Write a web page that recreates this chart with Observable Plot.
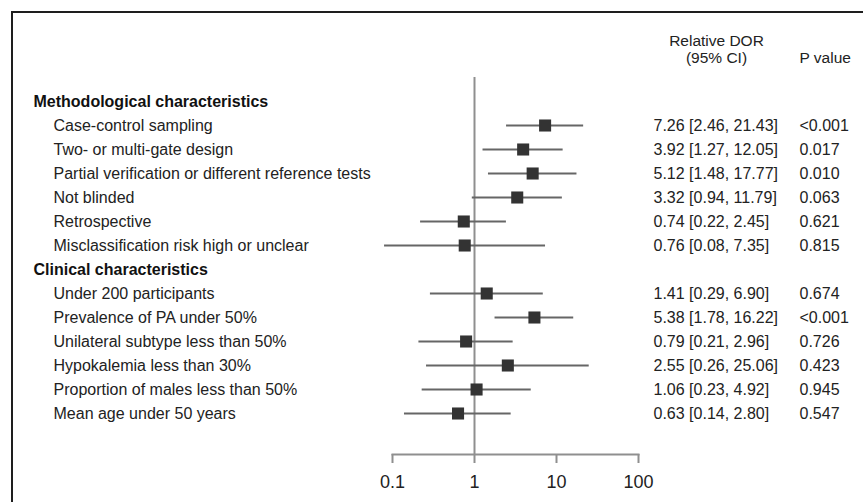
<!DOCTYPE html>
<html>
<head>
<meta charset="utf-8">
<script src="https://cdn.jsdelivr.net/npm/d3@7"></script>
<script src="https://cdn.jsdelivr.net/npm/@observablehq/plot@0.6"></script>
<style>
  html, body { margin: 0; padding: 0; background: #fff; overflow: hidden; }
  #wrap { position: relative; width: 863px; height: 502px; }
  #border { position: absolute; left: 11px; top: 11px; width: 1000px; height: 1000px;
            border-left: 2px solid #1e1e1e; border-top: 2px solid #1e1e1e; pointer-events: none; }
  svg { font-family: "Liberation Sans", Arial, sans-serif; }
</style>
</head>
<body>
<div id="wrap"><div id="chart"></div><div id="border"></div></div>
<script>
const groups = ["Methodological characteristics", "Clinical characteristics"];
const labels = [
  "Case-control sampling",
  "Two- or multi-gate design",
  "Partial verification or different reference tests",
  "Not blinded",
  "Retrospective",
  "Misclassification risk high or unclear",
  "Under 200 participants",
  "Prevalence of PA under 50%",
  "Unilateral subtype less than 50%",
  "Hypokalemia less than 30%",
  "Proportion of males less than 50%",
  "Mean age under 50 years"
];
const groupOf = [0, 0, 0, 0, 0, 0, 1, 1, 1, 1, 1, 1];
const estimates = [7.26, 3.92, 5.12, 3.32, 0.74, 0.76, 1.41, 5.38, 0.79, 2.55, 1.06, 0.63];
const lower     = [2.46, 1.27, 1.48, 0.94, 0.22, 0.08, 0.29, 1.78, 0.21, 0.26, 0.23, 0.14];
const upper     = [21.43, 12.05, 17.77, 11.79, 2.45, 7.35, 6.90, 16.22, 2.96, 25.06, 4.92, 2.80];
const pValues   = ["<0.001", "0.017", "0.010", "0.063", "0.621", "0.815",
                   "0.674", "<0.001", "0.726", "0.423", "0.945", "0.547"];
const xTicks = [0.1, 1, 10, 100];
const colHeaders = ["Relative DOR", "(95% CI)", "P value"];

// build row order: group header then its items
const rowOrder = [];
groups.forEach((g, gi) => {
  rowOrder.push(g);
  labels.forEach((l, i) => { if (groupOf[i] === gi) rowOrder.push(l); });
});
const items = labels.map((l, i) => ({
  label: l, est: estimates[i], lo: lower[i], hi: upper[i], p: pValues[i],
  ci: `${estimates[i].toFixed(2)} [${lower[i].toFixed(2)}, ${upper[i].toFixed(2)}]`
}));

const W = 863, H = 502;
const mL = 392, mR = 225, mT = 77, mB = 48;
const frameRight = W - mR;

const chart = Plot.plot({
  width: W, height: H,
  marginLeft: mL, marginRight: mR, marginTop: mT, marginBottom: mB,
  style: { fontFamily: "'Liberation Sans', Arial, sans-serif", background: "transparent" },
  x: { type: "log", domain: [0.1, 100] },
  y: { type: "point", domain: rowOrder, range: [101, 413], padding: 0, axis: null },
  marks: [
    Plot.ruleX([1], { stroke: "#8f8f8f", strokeWidth: 2 }),
    Plot.frame({ anchor: "bottom", stroke: "#8f8f8f", strokeWidth: 2 }),
    Plot.axisX({ ticks: xTicks, tickFormat: d => String(d), tickSize: 9, tickPadding: 12,
                 fontSize: 18, stroke: "#8f8f8f", strokeWidth: 2, color: "#222", label: null }),
    Plot.ruleY(items, { y: "label", x1: "lo", x2: "hi", stroke: "#666", strokeWidth: 2 }),
    Plot.dot(items, { x: "est", y: "label", symbol: "square", r: 6.8, fill: "#333", stroke: null }),
    Plot.text(groups, { y: d => d, text: d => d, frameAnchor: "left", dx: 33 - mL,
                        textAnchor: "start", lineAnchor: "middle", fontSize: 16, fontWeight: "bold", fill: "#111" }),
    Plot.text(items, { y: "label", text: "label", frameAnchor: "left", dx: 53 - mL,
                       textAnchor: "start", lineAnchor: "middle", fontSize: 16, fill: "#222" }),
    Plot.text(items, { y: "label", text: "ci", frameAnchor: "right", dx: 653 - frameRight,
                       textAnchor: "start", lineAnchor: "middle", fontSize: 16, fill: "#222" }),
    Plot.text(items, { y: "label", text: "p", frameAnchor: "right", dx: 799 - frameRight,
                       textAnchor: "start", lineAnchor: "middle", fontSize: 16, fill: "#222" }),
    Plot.text([colHeaders[0]], { text: d => d, frameAnchor: "top-right", dx: 716 - frameRight,
                                 dy: 41 - mT, textAnchor: "middle", lineAnchor: "middle", fontSize: 15.5, fill: "#222" }),
    Plot.text([colHeaders[1]], { text: d => d, frameAnchor: "top-right", dx: 716 - frameRight,
                                 dy: 58 - mT, textAnchor: "middle", lineAnchor: "middle", fontSize: 15.5, fill: "#222" }),
    Plot.text([colHeaders[2]], { text: d => d, frameAnchor: "top-right", dx: 799 - frameRight,
                                 dy: 58 - mT, textAnchor: "start", lineAnchor: "middle", fontSize: 15.5, fill: "#222" })
  ]
});
document.getElementById("chart").appendChild(chart);
</script>
</body>
</html>
